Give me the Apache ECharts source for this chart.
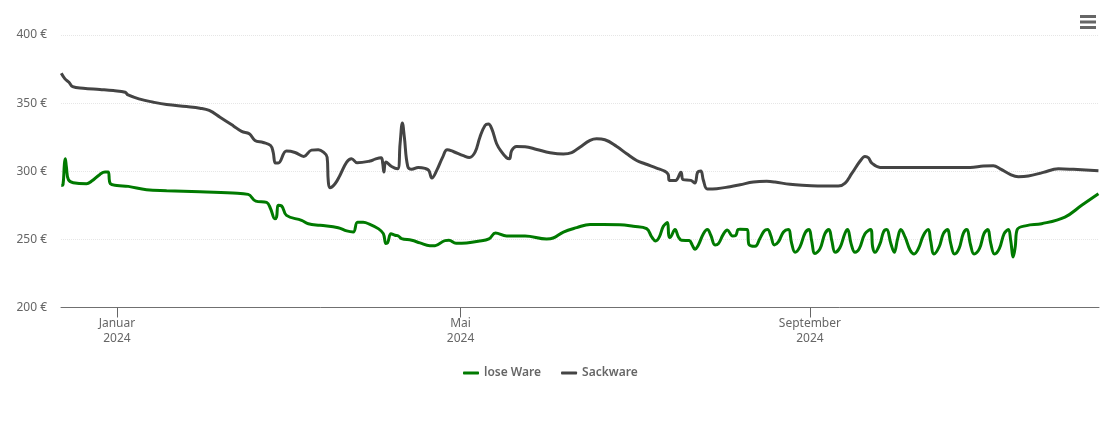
<!DOCTYPE html>
<html>
<head>
<meta charset="utf-8">
<title>Preisentwicklung</title>
<style>
html, body { margin: 0; padding: 0; background: #fff; }
#main { width: 1110px; height: 422px; }
</style>
<script src="https://cdn.jsdelivr.net/npm/echarts@6/dist/echarts.min.js"></script>
</head>
<body>
<div id="main"></div>
<script>
// all days are counted from 1 Jan 2024, values in euro
var startDay = -19.7, endDay = 345.8;
var seriesNames = ['lose Ware', 'Sackware'];

var tickDates = ['2024-01-01', '2024-05-01', '2024-09-01'];
var tickMonths = ['Januar', 'Mai', 'September'];
var tickYears = ['2024', '2024', '2024'];

var loseDays = [-19.6, -19, -18.5, -18.2, -17.8, -17.1, -15.4, -10.7, -8.9, -6, -4.2, -3.1, -2.3, 0, 4, 10.4, 17.5, 29.2, 40.8, 46.2,
    48.9, 52.7, 54.1, 55.6, 56.2, 56.8, 58, 59.7, 65, 67.4, 71.5, 77.9, 80.9, 83.2, 84.7, 86.7, 89.1, 92, 93.8, 94.7,
    95.3, 96.5, 97.9, 99.1, 100.2, 103.8, 106.7, 110.2, 112, 115.5, 116.9, 119.4, 123.1, 127.2, 131, 133.3, 137.2, 143.7, 151.3, 153.6,
    157.2, 161.9, 166.6, 171.3, 177.1, 181.8, 186.5, 188.3, 189.7, 191, 192.4, 193.8, 194.3, 194.7, 196.5, 197.7, 198.8, 201.5, 202.6, 203.5,
    204.7, 206.5, 207.9, 209.1, 210.6, 211.8, 213.5, 214.9, 216.8, 217.9, 218.7, 219.4, 222, 222.5, 224.7, 226.4, 227.9, 229.1, 230.2, 231.5,
    232.9, 234.7, 236.4, 237.6, 238.8, 240.5, 242.3, 243.7, 244.6, 245.8, 247.6, 249.3, 250.7, 251.7, 252.9, 254.6, 256.4, 257.3, 258.5, 259.9,
    261.4, 263.4, 265.4, 266.1, 266.9, 268.7, 269.9, 271, 272.5, 273.7, 274.9, 276, 277.5, 279.3, 280.7, 282.2, 284, 285.7, 286.5, 287.7,
    289.5, 291, 292.4, 293.6, 294.9, 296.5, 298, 299.2, 300.6, 301.8, 303.7, 305.3, 306.6, 307.7, 309, 310.7, 312.4, 313.9, 314.7, 315.6,
    316.3, 317, 320.3, 325.6, 333.8, 339.7, 345.6];
var loseValues = [289.6, 290.1, 305.5, 309.2, 303.1, 293.8, 291.6, 290.8, 292.8, 297.7, 299.4, 299.4, 290.8, 289.6, 288.9, 286.4, 285.7, 285, 284, 283,
    278.1, 277.2, 272.5, 265.2, 266.4, 275, 274.5, 267.6, 264, 261.5, 260.3, 258.6, 256.2, 255.4, 262.5, 262.5, 261, 257.9, 254.2, 246.9,
    247.4, 254.2, 253, 252.5, 250.6, 249.3, 247.4, 245.4, 245.4, 249.1, 249.3, 247.1, 247.4, 248.6, 250.3, 254.7, 252.5, 252.5, 250.3, 251,
    255.4, 258.6, 261, 261, 260.8, 259.6, 257.9, 251.8, 248.8, 251.8, 259.6, 262.3, 253, 251.3, 257.2, 251.8, 249.3, 249.1, 245.7, 242.7,
    245.7, 254.2, 257.2, 253, 245.9, 246.9, 253.7, 256.9, 252.5, 253, 257.2, 257.4, 257.2, 246.4, 244.9, 250.6, 256.2, 257.2, 253, 245.9,
    248.1, 255.4, 257.2, 246.9, 240.5, 244.5, 254.7, 257.2, 249.3, 239.6, 243.2, 254.2, 257.2, 249.3, 240.5, 244, 254.7, 257.2, 246.9, 240.5,
    243.2, 254.2, 257.2, 244.5, 240.5, 246.9, 255.4, 257.2, 246.9, 240.5, 250.6, 257.2, 251.8, 242, 239.3, 243.2, 253, 257.2, 249.3, 239.3,
    244.5, 254.2, 257.2, 246.9, 239.3, 243.2, 254.2, 257.2, 245.7, 239.3, 243.2, 254.2, 257.2, 246.9, 239.3, 243.2, 254.2, 257.2, 249.3, 237.1,
    244.5, 257.2, 260.1, 261.5, 266.4, 275, 283.5];

var sackDays = [-19.6, -18.3, -16.9, -15.6, -11.9, -6, -1.3, 2.9, 3.9, 8.1, 12.8, 17.5, 24.5, 29.2, 32.5, 36.3, 41, 43.9, 46.6, 48.6,
    51.5, 54.1, 55, 55.8, 56.8, 59.7, 62.7, 65.8, 68.5, 70.9, 72.7, 74, 74.4, 75, 76.8, 78.5, 80.9, 82.6, 84.6, 89.1,
    90.9, 93, 93.6, 94, 94.7, 96.7, 98.8, 99.7, 100.5, 101.2, 102.4, 103.8, 106.1, 108.5, 109.8, 110.9, 112.6, 114.7, 116.3, 118.4,
    122, 124.1, 126.1, 127.8, 129.6, 130.8, 132, 133.7, 135.5, 137.2, 138.2, 139, 140.7, 143.7, 147.8, 152.5, 157.2, 160.1, 163, 166.6,
    168.9, 171.8, 176, 179.5, 183, 185.9, 190, 193, 194.1, 194.5, 196.7, 198.6, 199.4, 202.1, 203.5, 204.5, 205.6, 206.5, 207.9, 211.2,
    215.9, 219.4, 224.1, 228.8, 231.7, 237, 242.9, 248.7, 254, 256.4, 258.7, 261.7, 263.4, 264.6, 265.8, 268.7, 278.1, 289.8, 300.4, 305.1,
    308.6, 311, 314.5, 317.4, 320.9, 326.2, 331.5, 336.8, 345.6];
var sackValues = [371.9, 367.8, 365.3, 362.1, 360.9, 360, 359.2, 358, 356, 352.9, 350.7, 349, 347.5, 346.3, 344.6, 339.7, 333.3, 329.2, 327.5, 322.6,
    321.1, 318.9, 314, 306, 306, 314.8, 313.8, 310.9, 315.5, 315.8, 314, 310.4, 293.3, 287.9, 290.8, 296.9, 306.7, 309.2, 306.2, 307.5,
    308.9, 309.9, 305.5, 299.4, 306.7, 303.5, 301.8, 320.2, 335.5, 325, 303.5, 301.4, 302.8, 302.1, 300.6, 295, 300.6, 310.4, 315.8, 314.5,
    311.4, 310.1, 314, 325, 333.6, 334.6, 331.1, 320.2, 314, 309.9, 309.2, 315.3, 318.2, 318, 316, 313.6, 312.6, 313.6, 317.7, 322.6,
    323.8, 323.1, 318.2, 312.8, 307.9, 305.5, 302.3, 299.9, 297.7, 293.3, 293.3, 299.2, 293.8, 293.3, 291.3, 299.4, 300.1, 293.3, 287, 287.2,
    288.7, 290.1, 292.1, 292.6, 292.1, 290.4, 289.6, 289.1, 289.1, 291.3, 298.2, 307.5, 310.9, 309.9, 306, 302.8, 302.8, 302.8, 302.8, 303.8,
    304, 301.8, 297.7, 296, 296.5, 299.2, 301.8, 301.4, 300.4];

var dayMs = 24 * 3600 * 1000;
var jan1 = Date.UTC(2024, 0, 1);

function toTime(day) {
    return jan1 + day * dayMs;
}

function toPairs(days, values) {
    return days.map(function (d, i) {
        return [toTime(d), values[i]];
    });
}

var tickTimes = tickDates.map(function (d) {
    return new Date(d + 'T00:00:00Z').getTime();
});

var textColor = '#666666';
var myChart = echarts.init(document.getElementById('main'), null, { renderer: 'canvas' });

var option = {
    animation: false,
    color: ['#007a00', '#444444'],
    textStyle: { fontFamily: '"Noto Sans", sans-serif' },
    grid: { left: 61, right: 11, top: 35, height: 272.5, containLabel: false },
    toolbox: {
        right: 14,
        top: 15,
        padding: 0,
        itemSize: 16,
        feature: {
            myMenu: {
                show: true,
                title: 'Menü',
                icon: 'path://M0,0H16V3H0Z M0,5.5H16V8.5H0Z M0,11H16V14H0Z',
                onclick: function () {}
            }
        },
        iconStyle: { color: '#666666', borderWidth: 0 },
        emphasis: { iconStyle: { color: '#333333', borderWidth: 0, textFill: 'transparent' } }
    },
    legend: {
        data: seriesNames,
        left: 458,
        top: 362,
        itemWidth: 16,
        itemHeight: 3,
        itemGap: 20,
        icon: 'roundRect',
        textStyle: { color: '#666666', fontSize: 12, fontWeight: 600, fontFamily: '"Noto Sans", sans-serif' }
    },
    // value axis on timestamps, customValues does not work with type time
    xAxis: {
        type: 'value',
        min: toTime(startDay),
        max: toTime(endDay),
        axisLine: { show: true, onZero: false, lineStyle: { color: '#707070', width: 1 } },
        axisTick: { show: true, length: 10, customValues: tickTimes, lineStyle: { color: '#666666' } },
        splitLine: { show: false },
        axisLabel: {
            customValues: tickTimes,
            color: textColor,
            fontSize: 12,
            lineHeight: 15,
            margin: 9,
            hideOverlap: false,
            formatter: function (value) {
                var i = tickTimes.indexOf(value);
                return i < 0 ? '' : tickMonths[i] + '\n' + tickYears[i];
            }
        }
    },
    yAxis: {
        type: 'value',
        min: 200,
        max: 400,
        interval: 50,
        axisLine: { show: false },
        axisTick: { show: false },
        splitLine: { show: true, lineStyle: { color: '#e6e6e6', type: 'dotted', width: 1 } },
        axisLabel: {
            color: textColor,
            fontSize: 12,
            margin: 14,
            formatter: '{value} €'
        }
    },
    series: [
        {
            name: seriesNames[0],
            type: 'line',
            data: toPairs(loseDays, loseValues),
            showSymbol: false,
            smooth: 0.4,
            lineStyle: { width: 3 }
        },
        {
            name: seriesNames[1],
            type: 'line',
            data: toPairs(sackDays, sackValues),
            showSymbol: false,
            smooth: 0.4,
            lineStyle: { width: 3 }
        }
    ]
};
myChart.setOption(option);
</script>
</body>
</html>
